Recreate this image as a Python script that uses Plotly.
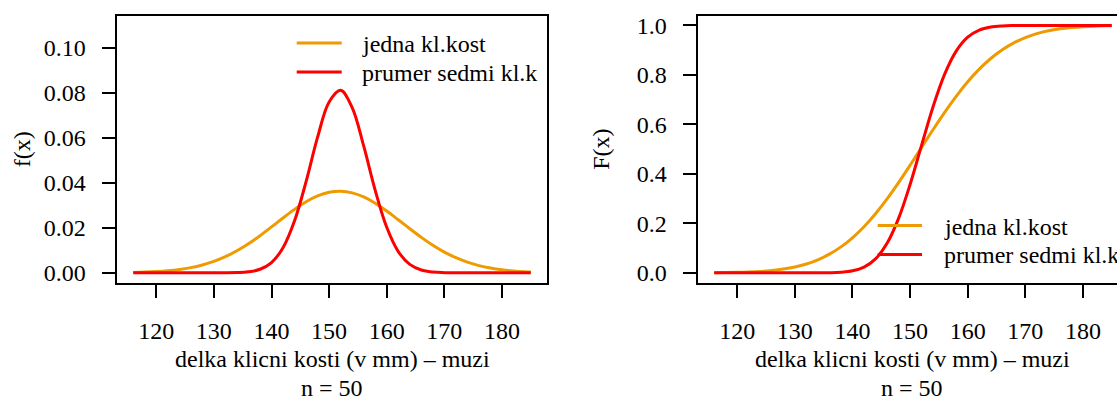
import plotly.graph_objects as go

# ---- data ----
x_mm = [116, 118, 120, 122, 124, 126, 128, 130, 132, 134, 136, 138, 140, 142,
        144, 146, 148, 150, 152, 154, 156, 158, 160, 162, 164, 166, 168, 170,
        172, 174, 176, 178, 180, 182, 184, 185]

pdf_one = [0.00018, 0.00032, 0.00056, 0.00093, 0.00149, 0.00232, 0.00350,
           0.00509, 0.00718, 0.00980, 0.01294, 0.01652, 0.02041, 0.02440,
           0.02822, 0.03158, 0.03418, 0.03580, 0.03627, 0.03556, 0.03373,
           0.03095, 0.02748, 0.02360, 0.01961, 0.01577, 0.01227, 0.00923,
           0.00672, 0.00474, 0.00323, 0.00213, 0.00136, 0.00084, 0.00050,
           0.00038]

pdf_mean7 = [0.0, 0.0, 0.0, 0.0, 0.0, 0.0, 0.000001, 0.000004, 0.000025,
             0.000117, 0.000468, 0.001589, 0.004577, 0.011175, 0.023126,
             0.040559, 0.060307, 0.075938, 0.081133, 0.073470, 0.056402,
             0.036695, 0.020243, 0.009468, 0.003751, 0.001259, 0.000359,
             0.000087, 0.000018, 0.000003, 0.0, 0.0, 0.0, 0.0, 0.0, 0.0]

cdf_one = [0.00057, 0.00106, 0.00192, 0.00337, 0.00575, 0.0095, 0.01525,
           0.02375, 0.03593, 0.05281, 0.07544, 0.10483, 0.14170, 0.18649,
           0.23913, 0.29900, 0.36487, 0.43502, 0.50725, 0.57926, 0.64870,
           0.71349, 0.77201, 0.82312, 0.86631, 0.90163, 0.92959, 0.95099,
           0.96685, 0.97822, 0.98610, 0.99139, 0.99482, 0.99698, 0.99829,
           0.99873]

cdf_mean7 = [0.0, 0.0, 0.0, 0.0, 0.0, 0.0, 0.0, 0.000005, 0.000029, 0.000148,
             0.000661, 0.00252, 0.00824, 0.02319, 0.05648, 0.11921, 0.21994,
             0.35723, 0.51621, 0.67263, 0.80336, 0.89620, 0.95221, 0.98092,
             0.99343, 0.99805, 0.99950, 0.99989, 0.99998, 1.0, 1.0, 1.0, 1.0,
             1.0, 1.0, 1.0]

series_names = ["jedna kl.kost", "prumer sedmi kl.k"]
series_colors = ["#EE9A00", "#FF0000"]

x_ticks = [120, 130, 140, 150, 160, 170, 180]
pdf_ticks = [0.00, 0.02, 0.04, 0.06, 0.08, 0.10]
pdf_ticktext = ["0.00", "0.02", "0.04", "0.06", "0.08", "0.10"]
cdf_ticks = [0.0, 0.2, 0.4, 0.6, 0.8, 1.0]
cdf_ticktext = ["0.0", "0.2", "0.4", "0.6", "0.8", "1.0"]

x_label = "delka klicni kosti (v mm) – muzi"
sub_label = "n = 50"

# ---- layout helpers ----
W, H = 1117, 400
FONT = "Liberation Serif"
FS = 24


def fx(px):
    return px / W


def fy(py):
    return 1 - py / H


fig = go.Figure()

for vals, name, col in zip([pdf_one, pdf_mean7], series_names, series_colors):
    fig.add_trace(go.Scatter(x=x_mm, y=vals, mode="lines", name=name,
                             line=dict(color=col, width=3, shape="spline"),
                             xaxis="x", yaxis="y"))
for vals, name, col in zip([cdf_one, cdf_mean7], series_names, series_colors):
    fig.add_trace(go.Scatter(x=x_mm, y=vals, mode="lines", name=name,
                             line=dict(color=col, width=3, shape="spline"),
                             xaxis="x2", yaxis="y2"))

axis_common = dict(showgrid=False, zeroline=False, showline=True,
                   linecolor="black", linewidth=1.5, ticks="outside",
                   ticklen=14, tickwidth=1.5, tickcolor="black",
                   tickfont=dict(family=FONT, size=FS, color="black"))

y_top, y_bot = 12.7, 284.0
fig.update_layout(
    width=W, height=H,
    margin=dict(l=0, r=0, t=0, b=0),
    paper_bgcolor="white", plot_bgcolor="white",
    showlegend=False,
    xaxis=dict(domain=[fx(117.3), fx(546.7)], range=[113.24, 187.76],
               tickvals=x_ticks, mirror=True, anchor="y",
               ticklabelstandoff=12, **axis_common),
    yaxis=dict(domain=[fy(y_bot), fy(y_top)], range=[-0.0044, 0.1144],
               tickvals=pdf_ticks, ticktext=pdf_ticktext, mirror=True,
               anchor="x", ticklabelstandoff=11, **axis_common),
    xaxis2=dict(domain=[fx(698.3), 1.0], range=[113.24, 185.91],
                tickvals=x_ticks, mirror=True, anchor="y2",
                ticklabelstandoff=12, **axis_common),
    yaxis2=dict(domain=[fy(y_bot), fy(y_top)], range=[-0.04, 1.04],
                tickvals=cdf_ticks, ticktext=cdf_ticktext, mirror=False,
                anchor="x2", ticklabelstandoff=11, **axis_common),
)

font = dict(family=FONT, size=FS, color="black")
ann = []
# axis titles
ann.append(dict(text="f(x)", x=fx(21.5), y=fy(149), xref="paper", yref="paper",
                textangle=-90, showarrow=False, font=font,
                xanchor="center", yanchor="middle"))
ann.append(dict(text="F(x)", x=fx(601), y=fy(149), xref="paper", yref="paper",
                textangle=-90, showarrow=False, font=font,
                xanchor="center", yanchor="middle"))
for cx in (332, 912):
    ann.append(dict(text=x_label, x=fx(cx), y=fy(361), xref="paper",
                    yref="paper", showarrow=False, font=font,
                    xanchor="center", yanchor="middle"))
    ann.append(dict(text=sub_label, x=fx(cx), y=fy(391), xref="paper",
                    yref="paper", showarrow=False, font=font,
                    xanchor="center", yanchor="middle"))

shapes = []
# legends: (segment x0, x1, text x, first row y)
for (sx0, sx1, tx, ry) in [(296.7, 341.7, 360, 40.7), (877.7, 922, 942, 226)]:
    for i, (name, col) in enumerate(zip(series_names, series_colors)):
        yy = ry + i * 29.3
        shapes.append(dict(type="line", xref="paper", yref="paper",
                           x0=fx(sx0), x1=fx(sx1), y0=fy(yy), y1=fy(yy),
                           line=dict(color=col, width=3)))
        ann.append(dict(text=name, x=fx(tx), y=fy(yy + 1), xref="paper",
                        yref="paper", showarrow=False, font=font,
                        xanchor="left", yanchor="middle"))

fig.update_layout(annotations=ann, shapes=shapes)

fig.write_html("out.html",
               config={"displayModeBar": False},
               post_script="document.body.style.margin='0';"
                           "document.body.style.overflow='hidden';")
